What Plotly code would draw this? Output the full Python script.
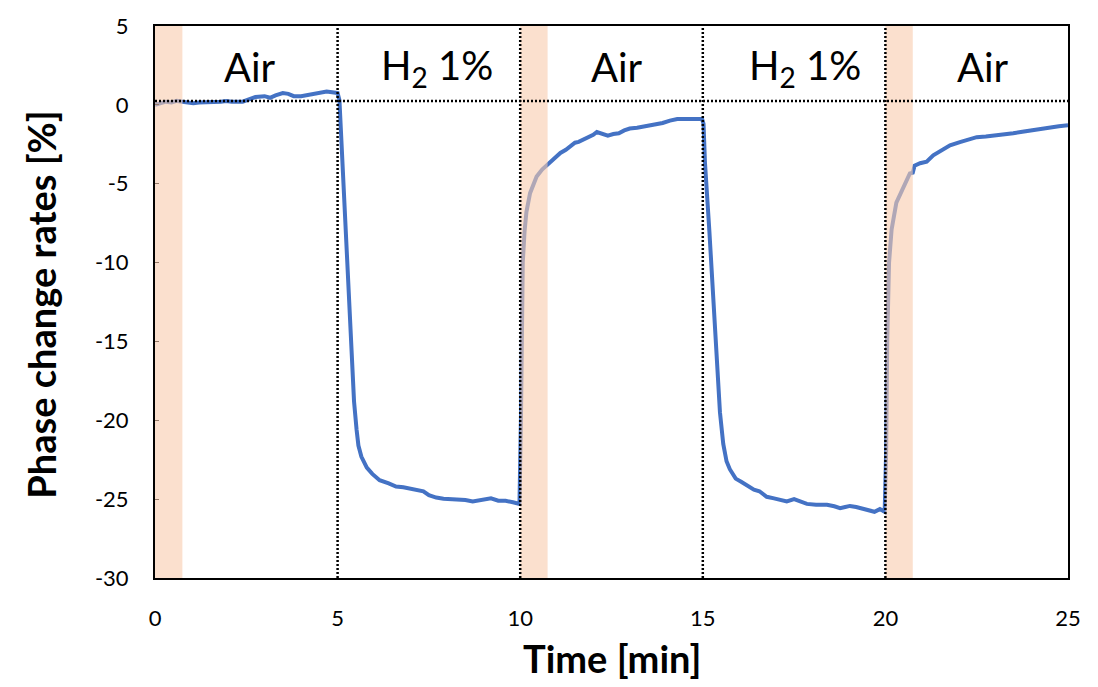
import plotly.graph_objects as go

# ---------------- data ----------------
time_min = [
    0, 0.15, 0.3, 0.45, 0.6, 0.75, 0.9, 1.05, 1.2, 1.5, 1.8, 1.95, 2.1, 2.4, 2.6, 2.75,
    3.0, 3.15, 3.3, 3.5, 3.65, 3.8, 4.0, 4.2, 4.4, 4.55, 4.7, 4.85, 5.0,
    5.05, 5.15, 5.25, 5.35, 5.45, 5.52, 5.57, 5.65, 5.72, 5.8, 5.95, 6.15, 6.4, 6.6,
    6.8, 7.0, 7.2, 7.35, 7.5, 7.7, 7.9, 8.1, 8.3, 8.5, 8.7, 8.85, 9.0, 9.2, 9.4, 9.6,
    9.8, 9.98,
    10.02, 10.04, 10.07, 10.12, 10.17, 10.27, 10.45, 10.6, 10.72,
    10.85, 11.0, 11.1, 11.25, 11.36, 11.5, 11.6, 11.75, 11.9, 12.0, 12.1, 12.25, 12.4,
    12.55, 12.7, 12.85, 13.0, 13.2, 13.4, 13.6, 13.75, 13.9, 14.1, 14.3, 14.5, 14.7,
    14.98,
    15.02, 15.06, 15.18, 15.29, 15.4, 15.47, 15.56, 15.65, 15.74, 15.9, 16.05, 16.2,
    16.4, 16.55, 16.75, 16.95, 17.1, 17.3, 17.5, 17.65, 17.85, 18.1, 18.4, 18.6, 18.76,
    18.9, 19.03, 19.2, 19.4, 19.55, 19.7, 19.85, 19.98,
    20.02, 20.05, 20.1, 20.17, 20.3, 20.49, 20.67, 20.75,
    20.8, 20.95, 21.13, 21.31, 21.5, 21.77, 22.04, 22.25, 22.5, 22.75, 23.0, 23.25,
    23.5, 23.75, 24.0, 24.25, 24.5, 24.75, 25.0,
]
phase_change = [
    0.0, 0.1, 0.2, 0.15, 0.25, 0.2, 0.15, 0.1, 0.15, 0.15, 0.2, 0.25, 0.2, 0.2, 0.4, 0.5,
    0.55, 0.45, 0.6, 0.75, 0.7, 0.55, 0.55, 0.65, 0.7, 0.8, 0.85, 0.8, 0.75,
    0.3, -4.5, -9.3, -14.0, -18.8, -20.6, -21.6, -22.3, -22.7, -23.0, -23.4, -23.8, -24.0, -24.2,
    -24.25, -24.35, -24.4, -24.5, -24.75, -24.9, -24.97, -25.0, -25.05, -25.05, -25.15, -25.1,
    -25.0, -24.95, -25.1, -25.1, -25.2, -25.3,
    -20.0, -13.0, -10.0, -8.0, -6.8, -5.6, -4.55, -4.1, -3.85,
    -3.5, -3.2, -3.05, -2.85, -2.65, -2.4, -2.35, -2.2, -2.05, -1.9, -1.72, -1.85, -1.95,
    -1.85, -1.8, -1.62, -1.5, -1.45, -1.38, -1.3, -1.25, -1.15, -1.0, -0.9, -0.9, -0.9,
    -0.9,
    -1.2, -3.7, -8.0, -12.1, -16.5, -19.5, -21.5, -22.6, -23.1, -23.7, -23.9, -24.1,
    -24.4, -24.5, -24.85, -24.95, -25.05, -25.15, -25.0, -25.15, -25.3, -25.35, -25.36, -25.45, -25.57,
    -25.5, -25.43, -25.5, -25.63, -25.7, -25.8, -25.63, -25.8,
    -22.0, -15.0, -10.0, -7.9, -6.2, -5.2, -4.35, -4.3,
    -3.85, -3.7, -3.6, -3.2, -2.95, -2.57, -2.36, -2.2, -2.05, -2.0, -1.95, -1.85,
    -1.8, -1.7, -1.6, -1.5, -1.4, -1.35, -1.3,
]

switch_times = [5, 10, 15, 20]
band_starts = [0, 10, 20]
band_ends = [0.75, 10.75, 20.75]
baseline_level = 0.25

phase_labels = ["Air", "H<sub>2</sub> 1%", "Air", "H<sub>2</sub> 1%", "Air"]
phase_label_x = [2.6, 7.72, 12.65, 17.8, 22.67]
phase_label_y = 2.4

x_ticks = [0, 5, 10, 15, 20, 25]
y_ticks = [5, 0, -5, -10, -15, -20, -25, -30]

FONT = "Lato"

fig = go.Figure()
fig.add_trace(go.Scatter(
    x=time_min, y=phase_change, mode="lines",
    line=dict(color="#4472C4", width=4, shape="linear"),
    showlegend=False, hoverinfo="skip",
))

shapes = []
for s, e in zip(band_starts, band_ends):
    shapes.append(dict(type="rect", xref="x", yref="y", x0=s, x1=e, y0=-30, y1=5,
                       fillcolor="#F8CBAD", opacity=0.6, line=dict(width=0), layer="above"))
for t in switch_times:
    shapes.append(dict(type="line", xref="x", yref="y", x0=t, x1=t, y0=-30, y1=5,
                       line=dict(color="black", width=2.5, dash="2px,2px"), layer="above"))
shapes.append(dict(type="line", xref="x", yref="y", x0=0, x1=25, y0=baseline_level, y1=baseline_level,
                   line=dict(color="black", width=2.5, dash="2px,2px"), layer="above"))

annotations = []
for txt, xx in zip(phase_labels, phase_label_x):
    annotations.append(dict(x=xx, y=phase_label_y, xref="x", yref="y", text=txt,
                            showarrow=False, font=dict(family=FONT, size=40, color="black"),
                            xanchor="center", yanchor="middle"))
annotations.append(dict(x=0.5, y=-0.145, xref="paper", yref="paper", text="<b>Time [min]</b>",
                        showarrow=False, font=dict(family=FONT, size=38, color="black"),
                        xanchor="center", yanchor="middle"))
annotations.append(dict(x=-0.125, y=0.495, xref="paper", yref="paper",
                        text="<b>Phase change rates [%]</b>", textangle=-90,
                        showarrow=False, font=dict(family=FONT, size=38, color="black"),
                        xanchor="center", yanchor="middle"))

fig.update_layout(
    width=1098, height=687,
    margin=dict(l=155, r=30, t=20, b=109),
    paper_bgcolor="white", plot_bgcolor="white",
    shapes=shapes, annotations=annotations,
    font=dict(family=FONT, color="black"),
)
fig.update_xaxes(
    range=[0, 25], tickvals=x_ticks, ticktext=[str(v) for v in x_ticks],
    showgrid=False, zeroline=False, showline=True, linecolor="black", linewidth=2,
    mirror=True, ticks="", tickfont=dict(family=FONT, size=22, color="black"),
    ticklabelstandoff=20,
)
fig.update_yaxes(
    range=[-30, 5], tickvals=y_ticks, ticktext=[str(v) for v in y_ticks],
    showgrid=False, zeroline=False, showline=True, linecolor="black", linewidth=2,
    mirror=True, ticks="inside", ticklen=4, tickcolor="black", tickwidth=1,
    tickfont=dict(family=FONT, size=22, color="black"),
    ticklabelstandoff=20,
)

fig.write_html("out.html")
